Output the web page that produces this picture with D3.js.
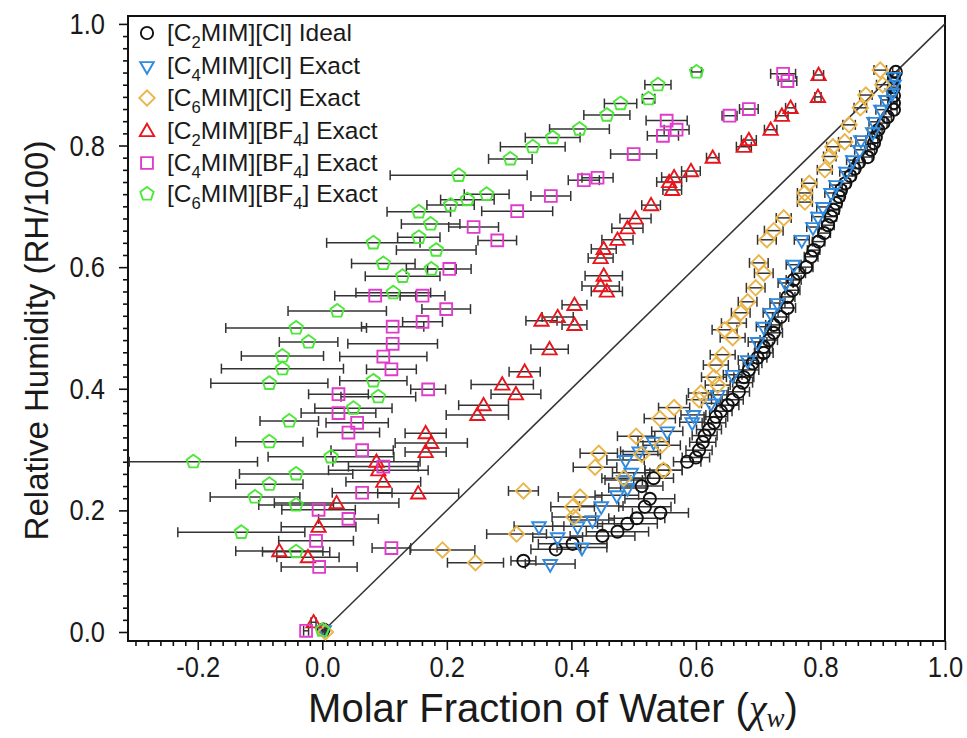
<!DOCTYPE html>
<html>
<head>
<meta charset="utf-8">
<script src="https://cdn.jsdelivr.net/npm/d3@7"></script>
<style>
  html, body { margin: 0; padding: 0; background: #fff; }
  svg { display: block; }
  text { font-family: "Liberation Sans", Arial, sans-serif; }
</style>
</head>
<body>
<svg id="chart" width="967" height="738"></svg>
<script>
// ---------- DATA : [molar fraction of water, RH/100, x error] ----------
const c2mimClIdeal = [
  [0.921,0.921,0.005],[0.918,0.911,0.005],[0.918,0.896,0.005],[0.918,0.882,0.005],[0.918,0.870,0.005],
  [0.918,0.859,0.005],[0.908,0.847,0.006],[0.901,0.837,0.006],[0.893,0.826,0.006],[0.889,0.814,0.006],
  [0.886,0.804,0.006],[0.881,0.793,0.006],[0.876,0.781,0.007],[0.862,0.772,0.007],[0.855,0.762,0.007],
  [0.848,0.750,0.008],[0.840,0.738,0.008],[0.833,0.727,0.008],[0.830,0.716,0.008],[0.825,0.705,0.009],
  [0.821,0.694,0.009],[0.817,0.683,0.009],[0.812,0.669,0.010],[0.806,0.656,0.010],[0.797,0.642,0.010],
  [0.789,0.628,0.010],[0.785,0.617,0.011],[0.777,0.600,0.011],[0.765,0.590,0.011],[0.757,0.579,0.012],
  [0.755,0.562,0.012],[0.747,0.551,0.012],[0.747,0.533,0.013],[0.736,0.518,0.013],[0.725,0.505,0.013],
  [0.725,0.492,0.014],[0.717,0.480,0.014],[0.709,0.469,0.014],[0.709,0.459,0.015],[0.699,0.451,0.015],
  [0.691,0.442,0.015],[0.685,0.431,0.016],[0.677,0.419,0.016],[0.675,0.410,0.016],[0.669,0.395,0.017],
  [0.659,0.382,0.017],[0.651,0.373,0.018],[0.640,0.363,0.018],[0.632,0.354,0.019],[0.629,0.344,0.019],
  [0.621,0.333,0.020],[0.614,0.323,0.020],[0.611,0.312,0.021],[0.605,0.299,0.021],[0.600,0.287,0.022],
  [0.586,0.280,0.022],[0.548,0.266,0.030],[0.532,0.253,0.032],[0.513,0.240,0.034],[0.526,0.219,0.040],
  [0.518,0.206,0.042],[0.543,0.196,0.045],[0.505,0.187,0.045],[0.490,0.178,0.048],[0.474,0.165,0.050],
  [0.450,0.158,0.052],[0.402,0.145,0.055],[0.375,0.136,0.040],[0.323,0.117,0.020],[0.002,0.004,0.004]
];
const c4mimClExact = [
  [0.918,0.913,0.008],[0.918,0.900,0.008],[0.915,0.886,0.008],[0.905,0.875,0.008],[0.897,0.859,0.008],
  [0.886,0.839,0.008],[0.884,0.822,0.008],[0.865,0.809,0.008],[0.863,0.793,0.008],[0.852,0.776,0.010],
  [0.841,0.757,0.010],[0.825,0.735,0.010],[0.817,0.722,0.010],[0.804,0.699,0.010],[0.796,0.683,0.010],
  [0.788,0.666,0.010],[0.770,0.645,0.012],[0.757,0.604,0.012],[0.744,0.574,0.012],[0.731,0.541,0.012],
  [0.720,0.525,0.012],[0.709,0.502,0.012],[0.699,0.477,0.015],[0.683,0.447,0.015],[0.659,0.423,0.015],
  [0.635,0.390,0.015],[0.624,0.376,0.015],[0.596,0.357,0.020],[0.594,0.345,0.020],[0.554,0.330,0.025],
  [0.532,0.313,0.025],[0.509,0.297,0.030],[0.487,0.283,0.030],[0.496,0.262,0.030],[0.484,0.250,0.030],
  [0.490,0.237,0.030],[0.473,0.225,0.035],[0.448,0.207,0.035],[0.434,0.184,0.035],[0.410,0.174,0.040],
  [0.348,0.174,0.040],[0.378,0.156,0.040],[0.417,0.139,0.040],[0.366,0.112,0.040],[0.003,0.003,0.004]
];
const c6mimClExact = [
  [0.896,0.924,0.010],[0.900,0.900,0.010],[0.873,0.883,0.010],[0.864,0.862,0.010],[0.846,0.834,0.010],
  [0.839,0.806,0.010],[0.820,0.798,0.010],[0.815,0.782,0.010],[0.807,0.760,0.012],[0.782,0.738,0.012],
  [0.775,0.722,0.012],[0.775,0.707,0.012],[0.741,0.681,0.012],[0.725,0.660,0.015],[0.714,0.645,0.015],
  [0.701,0.607,0.015],[0.709,0.590,0.015],[0.696,0.566,0.015],[0.683,0.543,0.015],[0.672,0.525,0.015],
  [0.661,0.508,0.020],[0.646,0.497,0.020],[0.659,0.484,0.020],[0.643,0.456,0.020],[0.632,0.439,0.020],
  [0.629,0.419,0.020],[0.635,0.406,0.020],[0.608,0.393,0.020],[0.605,0.382,0.020],[0.565,0.369,0.025],
  [0.542,0.351,0.025],[0.504,0.322,0.030],[0.545,0.307,0.030],[0.513,0.292,0.030],[0.444,0.294,0.030],
  [0.438,0.271,0.035],[0.548,0.266,0.030],[0.484,0.253,0.035],[0.323,0.232,0.024],[0.414,0.222,0.035],
  [0.402,0.206,0.035],[0.404,0.189,0.035],[0.312,0.161,0.048],[0.193,0.135,0.052],[0.246,0.114,0.045],
  [0.005,0.000,0.004]
];
const c2mimBF4Exact = [
  [0.797,0.916,0.008],[0.796,0.880,0.005],[0.752,0.862,0.008],[0.738,0.849,0.010],[0.720,0.826,0.010],
  [0.685,0.809,0.012],[0.677,0.798,0.012],[0.627,0.780,0.010],[0.592,0.758,0.015],[0.565,0.748,0.020],
  [0.557,0.740,0.020],[0.562,0.727,0.015],[0.528,0.702,0.015],[0.503,0.680,0.025],[0.490,0.664,0.025],
  [0.474,0.645,0.025],[0.452,0.630,0.020],[0.447,0.615,0.020],[0.452,0.586,0.030],[0.447,0.569,0.030],
  [0.457,0.560,0.025],[0.405,0.538,0.020],[0.378,0.518,0.025],[0.352,0.512,0.025],[0.405,0.505,0.020],
  [0.365,0.465,0.030],[0.325,0.428,0.025],[0.289,0.407,0.050],[0.311,0.391,0.040],[0.259,0.373,0.040],
  [0.249,0.357,0.050],[0.166,0.327,0.033],[0.175,0.311,0.058],[0.166,0.296,0.033],[0.087,0.280,0.070],
  [0.090,0.266,0.080],[0.098,0.247,0.060],[0.154,0.228,0.065],[0.023,0.212,0.100],[-0.006,0.173,0.060],
  [-0.069,0.133,0.070],[-0.023,0.123,0.050],[-0.014,0.016,0.004]
];
const c4mimBF4Exact = [
  [0.740,0.918,0.020],[0.747,0.906,0.015],[0.685,0.860,0.015],[0.654,0.849,0.012],[0.553,0.841,0.033],
  [0.569,0.826,0.020],[0.547,0.816,0.025],[0.500,0.786,0.037],[0.442,0.747,0.025],[0.420,0.743,0.025],
  [0.367,0.717,0.032],[0.313,0.692,0.057],[0.243,0.666,0.040],[0.281,0.644,0.031],[0.204,0.597,0.035],
  [0.161,0.553,0.036],[0.085,0.553,0.065],[0.199,0.531,0.039],[0.161,0.510,0.032],[0.113,0.502,0.050],
  [0.113,0.474,0.072],[0.098,0.453,0.070],[0.111,0.432,0.040],[0.170,0.399,0.028],[0.026,0.391,0.048],
  [0.026,0.360,0.060],[0.056,0.344,0.050],[0.042,0.328,0.050],[0.064,0.299,0.050],[0.098,0.272,0.056],
  [0.064,0.229,0.048],[-0.006,0.201,0.059],[0.042,0.186,0.048],[-0.010,0.150,0.060],[0.111,0.138,0.031],
  [-0.005,0.107,0.061],[-0.026,0.002,0.004]
];
const c6mimBF4Exact = [
  [0.601,0.921,0.008],[0.539,0.900,0.021],[0.524,0.877,0.010],[0.479,0.869,0.026],[0.457,0.850,0.037],
  [0.413,0.827,0.048],[0.370,0.813,0.044],[0.338,0.798,0.052],[0.302,0.778,0.035],[0.219,0.751,0.110],
  [0.264,0.720,0.036],[0.233,0.711,0.043],[0.206,0.702,0.038],[0.155,0.691,0.051],[0.174,0.671,0.047],
  [0.155,0.649,0.034],[0.082,0.640,0.075],[0.183,0.628,0.064],[0.098,0.606,0.051],[0.175,0.597,0.040],
  [0.129,0.585,0.060],[0.114,0.558,0.060],[0.024,0.528,0.079],[-0.042,0.500,0.113],[-0.022,0.477,0.047],
  [-0.064,0.454,0.066],[-0.064,0.433,0.098],[0.082,0.413,0.054],[-0.085,0.409,0.094],[0.090,0.387,0.060],
  [0.050,0.368,0.062],[-0.053,0.347,0.047],[-0.085,0.313,0.054],[0.014,0.288,0.101],[-0.207,0.280,0.103],
  [-0.042,0.260,0.091],[-0.085,0.243,0.054],[-0.108,0.222,0.072],[-0.042,0.209,0.060],[-0.130,0.164,0.102],
  [-0.042,0.132,0.054],[0.000,0.003,0.004]
];

const seriesNames = [
  "[C_2MIM][Cl] Ideal", "[C_4MIM][Cl] Exact", "[C_6MIM][Cl] Exact",
  "[C_2MIM][BF_4] Exact", "[C_4MIM][BF_4] Exact", "[C_6MIM][BF_4] Exact"
];
const seriesColors = ["#111111", "#2f8ae0", "#eab54a", "#e8161c", "#e03ccb", "#4ee63a"];
const seriesShapes = ["circle", "triangleDown", "diamond", "triangleUp", "square", "pentagon"];
const xTicks = [-0.2, 0.0, 0.2, 0.4, 0.6, 0.8, 1.0];
const yTicks = [0.0, 0.2, 0.4, 0.6, 0.8, 1.0];

const allSeries = [c2mimClIdeal, c4mimClExact, c6mimClExact, c2mimBF4Exact, c4mimBF4Exact, c6mimBF4Exact];

// ---------- LAYOUT ----------
const svg = d3.select("#chart");
const L = 128, R = 945, T = 16, B = 641;
const x = d3.scaleLinear().domain([-0.312, 1.0]).range([L, R]);
const y = d3.scaleLinear().domain([-0.0148, 1.013]).range([B, T]);
const tickScale = 0.85;

// minor ticks
const xMinor = d3.range(-30, 101, 2).map(v => v / 100).filter(v => !xTicks.some(t => Math.abs(t - v) < 1e-9));
const yMinor = d3.range(0, 101, 2).map(v => v / 100).filter(v => !yTicks.some(t => Math.abs(t - v) < 1e-9));

const gxMinor = svg.append("g").attr("transform", `translate(0,${B})`)
  .call(d3.axisBottom(x).tickValues(xMinor).tickSize(5).tickFormat(""));
const gyMinor = svg.append("g").attr("transform", `translate(${L},0)`)
  .call(d3.axisLeft(y).tickValues(yMinor).tickSize(5).tickFormat(""));
const gx = svg.append("g").attr("transform", `translate(0,${B})`)
  .call(d3.axisBottom(x).tickValues(xTicks).tickSize(9).tickPadding(6).tickFormat(d => d.toFixed(1)));
const gy = svg.append("g").attr("transform", `translate(${L},0)`)
  .call(d3.axisLeft(y).tickValues(yTicks).tickSize(9).tickPadding(14).tickFormat(d => d.toFixed(1)));
[gxMinor, gyMinor, gx, gy].forEach(g => {
  g.select(".domain").remove();
  g.selectAll(".tick line").attr("stroke", "#111").attr("stroke-width", 1.6);
});
[gx, gy].forEach(g => g.selectAll(".tick text")
  .attr("font-size", 30).attr("fill", "#1a1a1a"));
// condensed tick lettering
gx.selectAll(".tick text").attr("transform", `scale(${tickScale},1)`);
gy.selectAll(".tick text")
  .attr("x", -(9 + 14) / tickScale)
  .attr("transform", `scale(${tickScale},1)`);

// frame
svg.append("rect").attr("x", L).attr("y", T).attr("width", R - L).attr("height", B - T)
  .attr("fill", "none").attr("stroke", "#111").attr("stroke-width", 2);

// diagonal y = x
svg.append("line")
  .attr("x1", x(0)).attr("y1", y(0)).attr("x2", x(1)).attr("y2", y(1))
  .attr("stroke", "#333").attr("stroke-width", 1.5);

// ---------- ERROR BARS ----------
const gErr = svg.append("g").attr("stroke", "#333").attr("stroke-width", 1.5).attr("fill", "none");
allSeries.forEach(ser => {
  ser.forEach(([xv, yv, e]) => {
    const x0 = x(xv - e), x1 = x(xv + e), yy = y(yv);
    gErr.append("line").attr("x1", x0).attr("x2", x1).attr("y1", yy).attr("y2", yy);
    gErr.append("line").attr("x1", x0).attr("x2", x0).attr("y1", yy - 5).attr("y2", yy + 5);
    gErr.append("line").attr("x1", x1).attr("x2", x1).attr("y1", yy - 5).attr("y2", yy + 5);
  });
});

// ---------- MARKERS ----------
function pentagonPath(r) {
  const pts = d3.range(5).map(k => {
    const a = -Math.PI / 2 + k * 2 * Math.PI / 5;
    return [r * Math.cos(a), r * Math.sin(a)];
  });
  return d3.line()(pts) + "Z";
}
function markerPath(shape) {
  switch (shape) {
    case "circle": return d3.symbol(d3.symbolCircle, 118)();
    case "triangleDown": return d3.symbol(d3.symbolTriangle, 80)();
    case "triangleUp": return d3.symbol(d3.symbolTriangle, 88)();
    case "diamond": return d3.symbol(d3.symbolSquare, 118)();
    case "square": return d3.symbol(d3.symbolSquare, 140)();
    case "pentagon": return pentagonPath(7);
  }
}
function markerTransform(shape, px, py) {
  if (shape === "triangleDown") return `translate(${px},${py}) rotate(180)`;
  if (shape === "diamond") return `translate(${px},${py}) rotate(45)`;
  if (shape === "triangleUp") return `translate(${px},${py + 1})`;
  return `translate(${px},${py})`;
}
const gMarks = svg.append("g");
allSeries.forEach((ser, i) => {
  gMarks.append("g").selectAll("path").data(ser).join("path")
    .attr("d", markerPath(seriesShapes[i]))
    .attr("transform", d => markerTransform(seriesShapes[i], x(d[0]), y(d[1])))
    .attr("fill", "none").attr("stroke", seriesColors[i]).attr("stroke-width", 1.9);
});

// ---------- LEGEND ----------
function addRichText(sel, str, size) {
  const parts = str.split(/_(\d)/);
  parts.forEach((p, k) => {
    if (k % 2 === 0) {
      if (p.length) sel.append("tspan").text(p);
    } else {
      sel.append("tspan").attr("font-size", size * 0.68).attr("dy", size * 0.28).text(p);
      const next = parts[k + 1];
      if (next !== undefined && next.length) {
        sel.append("tspan").attr("dy", -size * 0.28).text(next);
        parts[k + 1] = "";
      }
    }
  });
}
const legY = [33, 66, 98, 131, 163, 194];
const leg = svg.append("g");
seriesNames.forEach((name, i) => {
  leg.append("path")
    .attr("d", markerPath(seriesShapes[i]))
    .attr("transform", markerTransform(seriesShapes[i], 147, legY[i]))
    .attr("fill", "none").attr("stroke", seriesColors[i]).attr("stroke-width", 1.9);
  const t = leg.append("text").attr("x", 167).attr("y", legY[i] + 8)
    .attr("font-size", 24.5).attr("fill", "#1a1a1a");
  addRichText(t, name, 24.5);
});

// ---------- AXIS TITLES ----------
svg.append("text")
  .attr("transform", `translate(48,${(T + B) / 2 + 12}) rotate(-90)`)
  .attr("text-anchor", "middle").attr("font-size", 33).attr("fill", "#1a1a1a")
  .text("Relative Humidity (RH/100)");

const xt = svg.append("text")
  .attr("x", 553).attr("y", 722).attr("text-anchor", "middle")
  .attr("font-size", 40).attr("fill", "#1a1a1a");
xt.append("tspan").text("Molar Fraction of Water (");
xt.append("tspan").attr("font-family", "'Liberation Serif', 'DejaVu Serif', serif")
  .attr("font-style", "italic").attr("font-size", 40).text("χ");
xt.append("tspan").attr("font-family", "'Liberation Serif', 'DejaVu Serif', serif")
  .attr("font-style", "italic").attr("font-size", 27).attr("dy", 5).text("w");
xt.append("tspan").attr("dy", -5).text(")");
</script>
</body>
</html>
